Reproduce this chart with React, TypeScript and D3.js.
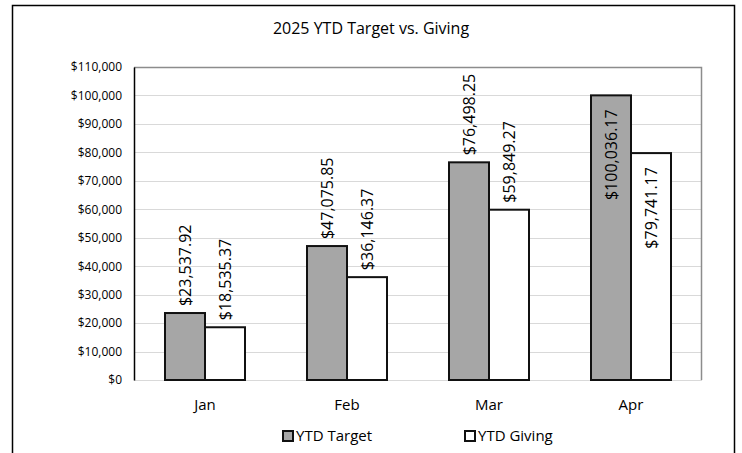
import * as React from 'react';
import * as d3 from 'd3';

const MONTHS = ['Jan', 'Feb', 'Mar', 'Apr'];
const YTD_TARGET = [23537.92, 47075.85, 76498.25, 100036.17];
const YTD_GIVING = [18535.37, 36146.37, 59849.27, 79741.17];
const SERIES_NAMES = ['YTD Target', 'YTD Giving'];
const Y_TICKS = [0, 10000, 20000, 30000, 40000, 50000, 60000, 70000, 80000, 90000, 100000, 110000];
// labels placed inside the bar end (rest sit above the bar)
const INSIDE_LABEL_MONTHS = ['Apr'];

const WIDTH = 742;
const HEIGHT = 453;
const FONT = '"Open Sans", sans-serif';
const COLORS = ['#a6a6a6', '#ffffff'];

const App = () => {
    const ref = React.useRef<SVGSVGElement>(null);

    React.useEffect(() => {
        const svg = d3.select(ref.current);
        svg.selectAll('*').remove();

        const plot = { left: 134, right: 702, top: 67, bottom: 380 };

        const xScale = d3.scaleBand<string>()
            .domain(MONTHS)
            .range([plot.left, plot.right]);

        const yScale = d3.scaleLinear()
            .domain([0, 110000])
            .range([plot.bottom, plot.top]);

        const money0 = d3.format('$,.0f');
        const money2 = d3.format('$,.2f');

        // outer chart border
        svg.append('rect')
            .attr('x', 12.5).attr('y', 5.5)
            .attr('width', 722).attr('height', 470)
            .attr('fill', '#fff')
            .attr('stroke', '#000')
            .attr('stroke-width', 1.5);

        // title
        svg.append('text')
            .attr('x', 371).attr('y', 34)
            .attr('text-anchor', 'middle')
            .attr('font-family', FONT)
            .attr('font-size', 16)
            .attr('fill', '#000')
            .text('2025 YTD Target vs. Giving');

        // gridlines
        svg.append('g')
            .selectAll('line')
            .data(Y_TICKS)
            .join('line')
            .attr('x1', plot.left).attr('x2', plot.right)
            .attr('y1', d => Math.round(yScale(d)) + 0.5)
            .attr('y2', d => Math.round(yScale(d)) + 0.5)
            .attr('stroke', '#d9d9d9')
            .attr('stroke-width', 1);

        // plot border (top + right)
        svg.append('path')
            .attr('d', `M${plot.left},${plot.top + 0.5}H${plot.right - 0.5}V${plot.bottom}`)
            .attr('fill', 'none')
            .attr('stroke', '#8c8c8c')
            .attr('stroke-width', 1.5);

        // y axis
        const yAxis = d3.axisLeft(yScale)
            .tickValues(Y_TICKS)
            .tickFormat(d => money0(d as number))
            .tickSize(0)
            .tickPadding(12);

        const yAxisGroup = svg.append('g')
            .attr('transform', `translate(${plot.left},0)`)
            .call(yAxis);

        yAxisGroup.select('.domain')
            .attr('stroke', '#000')
            .attr('stroke-width', 1.5);

        yAxisGroup.selectAll('.tick text')
            .attr('font-family', FONT)
            .attr('font-size', 12)
            .attr('fill', '#000');

        // bars
        const barW = 40;
        const seriesData = [YTD_TARGET, YTD_GIVING];

        seriesData.forEach((values, si) => {
            const g = svg.append('g');
            const barX = (m: string) => xScale(m)! + xScale.bandwidth() / 2 - barW + si * barW;

            g.selectAll('rect')
                .data(MONTHS)
                .join('rect')
                .attr('x', m => barX(m))
                .attr('y', (m, i) => yScale(values[i]))
                .attr('width', barW)
                .attr('height', (m, i) => plot.bottom - yScale(values[i]))
                .attr('fill', COLORS[si])
                .attr('stroke', '#111')
                .attr('stroke-width', 2);

            g.selectAll('text')
                .data(MONTHS)
                .join('text')
                .attr('transform', (m, i) => {
                    const inside = INSIDE_LABEL_MONTHS.includes(m);
                    const cx = barX(m) + barW / 2;
                    const y = inside ? yScale(values[i]) + 14 : yScale(values[i]) - 7;
                    return `translate(${cx},${y}) rotate(-90)`;
                })
                .attr('text-anchor', m => INSIDE_LABEL_MONTHS.includes(m) ? 'end' : 'start')
                .attr('dy', '0.35em')
                .attr('font-family', FONT)
                .attr('font-size', 16)
                .attr('fill', '#000')
                .text((m, i) => money2(values[i]));
        });

        // x category labels
        svg.append('g')
            .selectAll('text')
            .data(MONTHS)
            .join('text')
            .attr('x', m => xScale(m)! + xScale.bandwidth() / 2)
            .attr('y', 410)
            .attr('text-anchor', 'middle')
            .attr('font-family', FONT)
            .attr('font-size', 15)
            .attr('fill', '#000')
            .text(m => m);

        // legend
        const legendX = [282, 464];
        const legend = svg.append('g')
            .selectAll('g')
            .data(SERIES_NAMES)
            .join('g')
            .attr('transform', (d, i) => `translate(${legendX[i]},431)`);

        legend.append('rect')
            .attr('x', 1).attr('y', 0)
            .attr('width', 10).attr('height', 10)
            .attr('fill', (d, i) => COLORS[i])
            .attr('stroke', '#111')
            .attr('stroke-width', 2);

        legend.append('text')
            .attr('x', 14).attr('y', 5)
            .attr('dy', '0.35em')
            .attr('font-family', FONT)
            .attr('font-size', 15)
            .attr('fill', '#000')
            .text(d => d);
    }, []);

    return (
        <svg
            ref={ref}
            width={WIDTH}
            height={HEIGHT}
            style={{ position: 'absolute', left: 0, top: 0, background: '#fff' }}
        />
    );
};

export default App;
